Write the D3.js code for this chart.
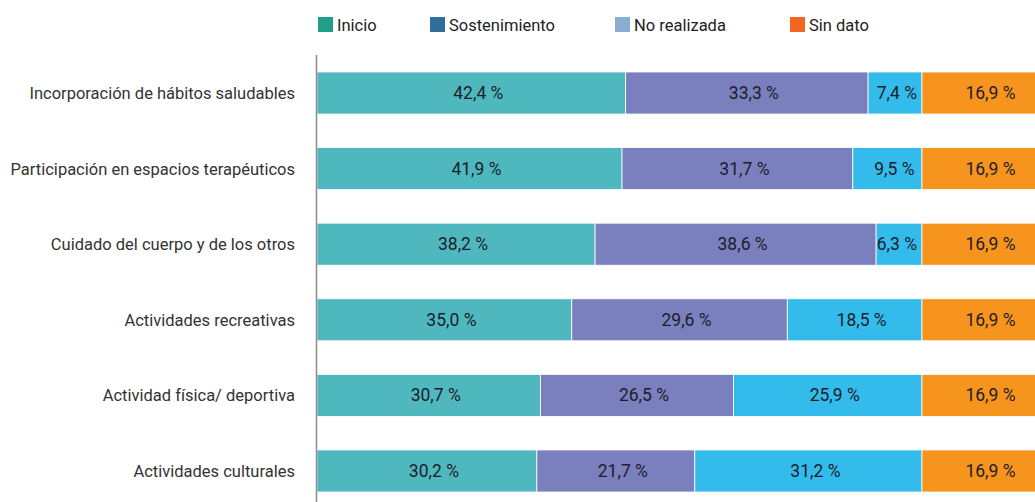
<!DOCTYPE html>
<html lang="es">
<head>
<meta charset="utf-8">
<style>
  body { margin: 0; background: white; }
  svg { display: block; font-family: Roboto, "Noto Sans", sans-serif; }
  .cat { font-size: 16.5px; fill: #333; }
  .val { font-size: 17.5px; fill: #1d1d2b; }
  .leg { font-size: 16.5px; fill: #222; }
</style>
<script src="https://cdn.jsdelivr.net/npm/d3@7"></script>
</head>
<body>
<script>
var categories = [
  "Incorporación de hábitos saludables",
  "Participación en espacios terapéuticos",
  "Cuidado del cuerpo y de los otros",
  "Actividades recreativas",
  "Actividad física/ deportiva",
  "Actividades culturales"
];
var seriesNames = ["Inicio", "Sostenimiento", "No realizada", "Sin dato"];
var inicio        = [42.4, 41.9, 38.2, 35.0, 30.7, 30.2];
var sostenimiento = [33.3, 31.7, 38.6, 29.6, 26.5, 21.7];
var noRealizada   = [7.4, 9.5, 6.3, 18.5, 25.9, 31.2];
var sinDato       = [16.9, 16.9, 16.9, 16.9, 16.9, 16.9];

var barColors    = ["#4fb8be", "#7a7fbd", "#33bbec", "#f7941d"];
var legendColors = ["#1f9e89", "#2e6f9b", "#8aaed3", "#f26522"];

var width = 1035, height = 502;

var rows = categories.map(function (c, i) {
  return { cat: c, "Inicio": inicio[i], "Sostenimiento": sostenimiento[i],
           "No realizada": noRealizada[i], "Sin dato": sinDato[i] };
});

var svg = d3.select("body").append("svg")
  .attr("width", width)
  .attr("height", height);

var x = d3.scaleLinear().domain([0, 100]).range([317, 1045]);
var y = d3.scaleBand().domain(categories).range([72, 492]).paddingInner(0.444).paddingOuter(0);

var stack = d3.stack().keys(seriesNames)(rows);

var layers = svg.append("g").selectAll("g")
  .data(stack)
  .enter().append("g")
  .attr("fill", function (d, i) { return barColors[i]; });

layers.selectAll("rect")
  .data(function (d) { return d; })
  .enter().append("rect")
  .attr("x", function (d) { return x(d[0]); })
  .attr("y", function (d) { return y(d.data.cat); })
  .attr("width", function (d) { return x(d[1]) - x(d[0]); })
  .attr("height", y.bandwidth())
  .attr("stroke", "#fff")
  .attr("stroke-width", 0.8);

// value labels, nudged right a bit, kept inside the segment
layers.selectAll("text")
  .data(function (d) { return d; })
  .enter().append("text")
  .attr("class", "val")
  .attr("text-anchor", "middle")
  .attr("y", function (d) { return y(d.data.cat) + y.bandwidth() / 2 + 6; })
  .text(function (d) { return d3.format(".1f")(d[1] - d[0]).replace(".", ",") + " %"; })
  .attr("x", function (d) {
    var w = this.getComputedTextLength();
    var cx = (x(d[0]) + Math.min(x(d[1]), 1045)) / 2 + 7;
    return Math.min(cx, x(d[1]) - 5 - w / 2);
  });

// axis line
svg.append("line")
  .attr("x1", 316.5).attr("x2", 316.5)
  .attr("y1", 55).attr("y2", height)
  .attr("stroke", "#8c8c8c")
  .attr("stroke-width", 1.5);

svg.append("g").selectAll("text")
  .data(categories)
  .enter().append("text")
  .attr("class", "cat")
  .attr("text-anchor", "end")
  .attr("x", 295)
  .attr("y", function (d) { return y(d) + y.bandwidth() / 2 + 6; })
  .text(function (d) { return d; });

// legend
var legX = [318, 430, 615, 790];
var leg = svg.append("g").selectAll("g")
  .data(seriesNames)
  .enter().append("g")
  .attr("transform", function (d, i) { return "translate(" + legX[i] + ",17)"; });
leg.append("rect")
  .attr("width", 15).attr("height", 15)
  .attr("fill", function (d, i) { return legendColors[i]; });
leg.append("text")
  .attr("class", "leg")
  .attr("x", 19).attr("y", 13.5)
  .text(function (d) { return d; });
</script>
</body>
</html>
